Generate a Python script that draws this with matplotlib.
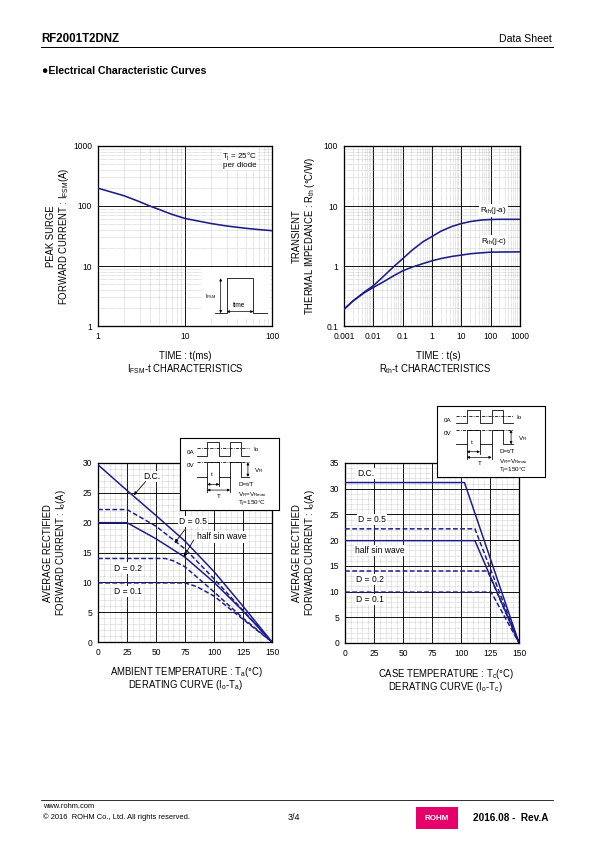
import matplotlib
matplotlib.use("Agg")
import matplotlib.pyplot as plt
from matplotlib.ticker import MultipleLocator, LogLocator, NullFormatter
from matplotlib.patches import Rectangle
from matplotlib.lines import Line2D

plt.rcParams['font.family'] = ['Liberation Sans', 'DejaVu Sans']
plt.rcParams['mathtext.fontset'] = 'custom'
plt.rcParams['mathtext.rm'] = 'Liberation Sans'
plt.rcParams['mathtext.it'] = 'Liberation Sans'

# --- data ---
# IFSM-t
t_ms = [1, 2, 3, 4, 5, 7, 10, 20, 30, 50, 70, 100]
ifsm = [198, 148, 118, 99, 88, 73, 62, 51, 46.5, 42.5, 40.5, 38.8]

# Rth-t
t_s = [0.001, 0.002, 0.005, 0.01, 0.02, 0.05, 0.1, 0.2, 0.5, 1, 2, 5, 10, 20, 50, 100, 200, 1000]
rth_ja = [0.19, 0.26, 0.37, 0.47, 0.64, 0.98, 1.32, 1.8, 2.55, 3.1, 3.8, 4.6, 5.1, 5.5, 5.85, 5.95, 6.0, 6.0]
rth_jc = [0.19, 0.26, 0.36, 0.44, 0.53, 0.69, 0.83, 0.95, 1.1, 1.22, 1.33, 1.45, 1.52, 1.6, 1.66, 1.7, 1.71, 1.72]

# Io-Ta
ta_dc = [0, 25, 50, 75, 100, 125, 150]
io_ta_dc = [29.7, 25.4, 21.2, 16.9, 11.8, 6.0, 0]
ta_d05 = [0, 25, 50, 75, 100, 125, 150]
io_ta_d05 = [22.2, 22.2, 19.4, 15.6, 10.6, 5.3, 0]
ta_sin = [0, 25, 50, 75, 100, 125, 150]
io_ta_sin = [20, 20, 17.3, 14.2, 10.0, 5.2, 0]
ta_d02 = [0, 58, 65, 75, 100, 125, 150]
io_ta_d02 = [14, 14, 13.6, 12.6, 8.4, 4.0, 0]
ta_d01 = [0, 75, 85, 100, 125, 150]
io_ta_d01 = [9.9, 9.9, 9.3, 7.7, 3.8, 0]

# Io-Tc
tc_dc = [0, 103, 150]
io_tc_dc = [31.2, 31.2, 0]
tc_d05 = [0, 112, 150]
io_tc_d05 = [22.2, 22.2, 0]
tc_sin = [0, 112, 150]
io_tc_sin = [19.9, 19.9, 0]
tc_d02 = [0, 123, 150]
io_tc_d02 = [14.0, 14.0, 0]
tc_d01 = [0, 126, 150]
io_tc_d01 = [9.9, 9.9, 0]

NAVY = '#1c1c8a'
DASH = (0, (3.2, 1.6))
W, H = 595, 842

fig = plt.figure(figsize=(W / 72, H / 72), dpi=72)


def add_ax(l, t, r, b):
    return fig.add_axes([l / W, 1 - b / H, (r - l) / W, (b - t) / H])


def ftext(px, py, s, **kw):
    fig.text(px / W, 1 - py / H, s, **kw)


def style(ax):
    ax.grid(which='major', color='black', lw=0.9, ls='-')
    ax.grid(which='minor', color='#9a9a9a', lw=0.5, ls=(0, (1, 1.3)))
    ax.tick_params(which='both', length=0, labelsize=8.5)
    ax.tick_params(axis='x', pad=6)
    ax.tick_params(axis='y', pad=6)
    for s in ax.spines.values():
        s.set_linewidth(1.3)


def wave_box(l, t, r, b, tx):
    # schematic of the test waveform, drawn in box-relative units
    bx = add_ax(l, t, r, b)
    bx.set_xlim(0, 1)
    bx.set_ylim(0, 1)
    bx.set_xticks([])
    bx.set_yticks([])
    for s in bx.spines.values():
        s.set_linewidth(1.1)
    k = dict(color='black', lw=0.8)
    xs = [0.173, 0.275, 0.275, 0.398, 0.398, 0.506, 0.506, 0.614, 0.614, 0.701]
    bx.plot([0.173, 0.701], [0.863, 0.863], ls=(0, (4, 1.5, 1, 1.5)), **k)
    bx.plot(xs, [0.756, 0.756, 0.944, 0.944, 0.756, 0.756, 0.944, 0.944, 0.756, 0.756], **k)
    bx.plot([0.173, 0.701], [0.662, 0.662], ls=(0, (4, 1.5, 1, 1.5)), **k)
    bx.plot(xs, [0.461, 0.461, 0.662, 0.662, 0.461, 0.461, 0.662, 0.662, 0.461, 0.461], **k)
    bx.plot([0.275, 0.275], [0.461, 0.25], **k)
    bx.plot([0.398, 0.398], [0.461, 0.33], **k)
    bx.plot([0.506, 0.506], [0.461, 0.25], **k)
    ap = dict(arrowstyle='<|-|>', color='black', lw=0.7, mutation_scale=5, shrinkA=0, shrinkB=0)
    bx.annotate('', xy=(0.275, 0.356), xytext=(0.398, 0.356), arrowprops=ap)
    bx.annotate('', xy=(0.275, 0.277), xytext=(0.506, 0.277), arrowprops=ap)
    bx.annotate('', xy=(0.686, 0.461), xytext=(0.686, 0.662), arrowprops=ap)
    fs = 6.3
    bx.text(0.065, 0.793, '0A', fontsize=fs, va='center')
    bx.text(0.738, 0.835, 'Io', fontsize=fs, va='center')
    bx.text(0.065, 0.615, '0V', fontsize=fs, va='center')
    bx.text(0.75, 0.545, 'V$_{\\mathregular{R}}$', fontsize=fs, va='center')
    bx.text(0.321, 0.489, 't', fontsize=fs, va='center', ha='center')
    bx.text(0.392, 0.193, 'T', fontsize=fs, va='center', ha='center')
    bx.text(tx, 0.356, 'D=t/T', fontsize=fs, va='center')
    bx.text(tx, 0.216, 'V$_{\\mathregular{R}}$=V$_{\\mathregular{Rmax}}$', fontsize=fs, va='center')
    bx.text(tx, 0.085, 'T$_{\\mathregular{j}}$=150°C', fontsize=fs, va='center')


box_bg = dict(facecolor='white', edgecolor='none', pad=1.0)

# ---------------- chart 1: IFSM-t ----------------
ax1 = add_ax(98, 146, 272, 326)
ax1.set_xscale('log')
ax1.set_yscale('log')
ax1.set_xlim(1, 100)
ax1.set_ylim(1, 1000)
ax1.xaxis.set_minor_locator(LogLocator(base=10, subs=range(2, 10)))
ax1.yaxis.set_minor_locator(LogLocator(base=10, subs=range(2, 10)))
ax1.set_xticks([1, 10, 100], ['1', '10', '100'])
ax1.set_yticks([1, 10, 100, 1000], ['1', '10', '100', '1000'])
ax1.xaxis.set_minor_formatter(NullFormatter())
ax1.yaxis.set_minor_formatter(NullFormatter())
style(ax1)
ax1.plot(t_ms, ifsm, color=NAVY, lw=1.6, zorder=3)
ax1.text(0.816, 0.944, 'T$_{\\mathregular{j}}$ = 25°C', transform=ax1.transAxes,
         ha='center', va='center', fontsize=8, bbox=box_bg)
ax1.text(0.816, 0.889, 'per diode', transform=ax1.transAxes,
         ha='center', va='center', fontsize=8, bbox=box_bg)
ax1.add_patch(Rectangle((0.60, 0.04), 0.39, 0.28, transform=ax1.transAxes,
                        facecolor='white', edgecolor='none', zorder=2))
ax1.plot([0.672, 0.740, 0.740, 0.893, 0.893, 0.970], [0.071, 0.071, 0.265, 0.265, 0.071, 0.071],
         transform=ax1.transAxes, color='black', lw=0.8, zorder=3)
ap1 = dict(arrowstyle='<|-|>', color='black', lw=0.7, mutation_scale=5, shrinkA=0, shrinkB=0)
ax1.annotate('', xy=(0.705, 0.071), xytext=(0.705, 0.265), xycoords='axes fraction',
             arrowprops=ap1, zorder=3)
ax1.annotate('', xy=(0.740, 0.08), xytext=(0.893, 0.08), xycoords='axes fraction',
             arrowprops=ap1, zorder=3)
ax1.text(0.65, 0.163, 'I$_{\\mathregular{FSM}}$', transform=ax1.transAxes, ha='center',
         va='center', fontsize=5.5, zorder=3)
ax1.text(0.812, 0.115, 'time', transform=ax1.transAxes, ha='center', va='center',
         fontsize=6.5, zorder=3)

ftext(51, 236, 'PEAK SURGE', rotation=90, ha='center', va='center', fontsize=9.5)
ftext(64, 236, 'FORWARD CURRENT : I$_{\\mathregular{FSM}}$(A)', rotation=90, ha='center',
      va='center', fontsize=9.5)
ftext(185, 356, 'TIME : t(ms)', ha='center', va='center', fontsize=9.5)
ftext(185, 369, 'I$_{\\mathregular{FSM}}$-t CHARACTERISTICS', ha='center', va='center', fontsize=9.5)

# ---------------- chart 2: Rth-t ----------------
ax2 = add_ax(344, 146, 520, 326)
ax2.set_xscale('log')
ax2.set_yscale('log')
ax2.set_xlim(0.001, 1000)
ax2.set_ylim(0.1, 100)
ax2.xaxis.set_minor_locator(LogLocator(base=10, subs=range(2, 10), numticks=20))
ax2.yaxis.set_minor_locator(LogLocator(base=10, subs=range(2, 10), numticks=20))
ax2.set_xticks([0.001, 0.01, 0.1, 1, 10, 100, 1000],
               ['0.001', '0.01', '0.1', '1', '10', '100', '1000'])
ax2.set_yticks([0.1, 1, 10, 100], ['0.1', '1', '10', '100'])
ax2.xaxis.set_minor_formatter(NullFormatter())
ax2.yaxis.set_minor_formatter(NullFormatter())
style(ax2)
ax2.plot(t_s, rth_ja, color=NAVY, lw=1.6, zorder=3)
ax2.plot(t_s, rth_jc, color=NAVY, lw=1.6, zorder=3)
ax2.text(0.85, 0.644, 'R$_{\\mathregular{th}}$(j-a)', transform=ax2.transAxes, ha='center',
         va='center', fontsize=8, bbox=box_bg)
ax2.text(0.85, 0.468, 'R$_{\\mathregular{th}}$(j-c)', transform=ax2.transAxes, ha='center',
         va='center', fontsize=8, bbox=box_bg)

ftext(297, 236, 'TRANSIENT', rotation=90, ha='center', va='center', fontsize=9.5)
ftext(310, 236, 'THERMAL IMPEDANCE : R$_{\\mathregular{th}}$ (°C/W)', rotation=90,
      ha='center', va='center', fontsize=9.5)
ftext(438, 356, 'TIME : t(s)', ha='center', va='center', fontsize=9.5)
ftext(435, 369, 'R$_{\\mathregular{th}}$-t CHARACTERISTICS', ha='center', va='center', fontsize=9.5)

# ---------------- chart 3: Io-Ta ----------------
ax3 = add_ax(98, 463, 272, 642)
ax3.set_xlim(0, 150)
ax3.set_ylim(0, 30)
ax3.xaxis.set_major_locator(MultipleLocator(25))
ax3.xaxis.set_minor_locator(MultipleLocator(5))
ax3.yaxis.set_major_locator(MultipleLocator(5))
ax3.yaxis.set_minor_locator(MultipleLocator(1))
style(ax3)
ax3.plot(ta_dc, io_ta_dc, color=NAVY, lw=1.5, zorder=3)
ax3.plot(ta_d05, io_ta_d05, color=NAVY, lw=1.5, ls=DASH, zorder=3)
ax3.plot(ta_sin, io_ta_sin, color=NAVY, lw=1.5, zorder=3)
ax3.plot(ta_d02, io_ta_d02, color=NAVY, lw=1.5, ls=DASH, zorder=3)
ax3.plot(ta_d01, io_ta_d01, color=NAVY, lw=1.5, ls=DASH, zorder=3)
ax3.text(46, 27.7, 'D.C.', ha='center', va='center', fontsize=8.5, bbox=box_bg, zorder=4)
ax3.text(82, 20.2, 'D = 0.5', ha='center', va='center', fontsize=8.5, bbox=box_bg, zorder=4)
ax3.text(107, 17.6, 'half sin wave', ha='center', va='center', fontsize=8.5, bbox=box_bg, zorder=4)
ax3.text(26, 12.4, 'D = 0.2', ha='center', va='center', fontsize=8.5, bbox=box_bg, zorder=4)
ax3.text(26, 8.4, 'D = 0.1', ha='center', va='center', fontsize=8.5, bbox=box_bg, zorder=4)
ap3 = dict(arrowstyle='-|>', color='black', lw=0.8, mutation_scale=7, shrinkA=0, shrinkB=0)
ax3.annotate('', xy=(30.8, 24.6), xytext=(41.1, 26.9), arrowprops=ap3, zorder=5)
ax3.annotate('', xy=(66.1, 16.6), xytext=(74.7, 18.8), arrowprops=ap3, zorder=5)
ax3.annotate('', xy=(73.9, 14.3), xytext=(82.5, 17.1), arrowprops=ap3, zorder=5)

ftext(48, 553, 'AVERAGE RECTIFIED', rotation=90, ha='center', va='center', fontsize=9.5)
ftext(61, 553, 'FORWARD CURRENT : I$_{\\mathregular{o}}$(A)', rotation=90, ha='center',
      va='center', fontsize=9.5)
ftext(186, 672, 'AMBIENT TEMPERATURE : T$_{\\mathregular{a}}$(°C)', ha='center', va='center', fontsize=9.5)
ftext(186, 685, 'DERATING CURVE (I$_{\\mathregular{o}}$-T$_{\\mathregular{a}}$)', ha='center',
      va='center', fontsize=9.5)
wave_box(180, 438, 279, 510, 0.59)

# ---------------- chart 4: Io-Tc ----------------
ax4 = add_ax(345, 463, 519, 643)
ax4.set_xlim(0, 150)
ax4.set_ylim(0, 35)
ax4.xaxis.set_major_locator(MultipleLocator(25))
ax4.xaxis.set_minor_locator(MultipleLocator(5))
ax4.yaxis.set_major_locator(MultipleLocator(5))
ax4.yaxis.set_minor_locator(MultipleLocator(1))
style(ax4)
ax4.plot(tc_dc, io_tc_dc, color=NAVY, lw=1.5, zorder=3)
ax4.plot(tc_d05, io_tc_d05, color=NAVY, lw=1.5, ls=DASH, zorder=3)
ax4.plot(tc_sin, io_tc_sin, color=NAVY, lw=1.5, zorder=3)
ax4.plot(tc_d02, io_tc_d02, color=NAVY, lw=1.5, ls=DASH, zorder=3)
ax4.plot(tc_d01, io_tc_d01, color=NAVY, lw=1.5, ls=DASH, zorder=3)
ax4.text(18, 33.0, 'D.C.', ha='center', va='center', fontsize=8.5, bbox=box_bg, zorder=4)
ax4.text(23, 24.0, 'D = 0.5', ha='center', va='center', fontsize=8.5, bbox=box_bg, zorder=4)
ax4.text(30, 17.9, 'half sin wave', ha='center', va='center', fontsize=8.5, bbox=box_bg, zorder=4)
ax4.text(21.5, 12.4, 'D = 0.2', ha='center', va='center', fontsize=8.5, bbox=box_bg, zorder=4)
ax4.text(21.5, 8.4, 'D = 0.1', ha='center', va='center', fontsize=8.5, bbox=box_bg, zorder=4)

ftext(297, 553, 'AVERAGE RECTIFIED', rotation=90, ha='center', va='center', fontsize=9.5)
ftext(310, 553, 'FORWARD CURRENT : I$_{\\mathregular{o}}$(A)', rotation=90, ha='center',
      va='center', fontsize=9.5)
ftext(446, 674, 'CASE TEMPERATURE : T$_{\\mathregular{c}}$(°C)', ha='center', va='center', fontsize=9.5)
ftext(445, 687, 'DERATING CURVE (I$_{\\mathregular{o}}$-T$_{\\mathregular{c}}$)', ha='center',
      va='center', fontsize=9.5)
wave_box(437, 406, 545, 477, 0.575)

# ---------------- page header / footer ----------------
ftext(41, 39, 'RF2001T2DNZ', fontsize=11.5, fontweight='bold', va='center')
ftext(552, 39, 'Data Sheet', fontsize=10.5, ha='right', va='center')
fig.add_artist(Line2D([41 / W, 553 / W], [1 - 47 / H, 1 - 47 / H], color='black', lw=1))
ftext(42, 71, '●Electrical Characteristic Curves', fontsize=10.5, fontweight='bold', va='center')

fig.add_artist(Line2D([41 / W, 553 / W], [1 - 800 / H, 1 - 800 / H], color='black', lw=0.8))
ftext(43, 807, 'www.rohm.com', fontsize=7.5, va='center')
ftext(43, 817.5, '© 2016  ROHM Co., Ltd. All rights reserved.', fontsize=7.5, va='center')
ftext(294, 818, '3/4', fontsize=9, ha='center', va='center')
fig.add_artist(Rectangle((416 / W, 1 - 829 / H), 42 / W, 22 / H, transform=fig.transFigure,
                         facecolor='#e5006a', edgecolor='none'))
ftext(437, 818, 'ROHM', fontsize=8, ha='center', va='center', color='white', fontweight='bold')
ftext(473, 818, '2016.08 -  Rev.A', fontsize=10, fontweight='bold', va='center')

fig.savefig('out.png', dpi=72)
